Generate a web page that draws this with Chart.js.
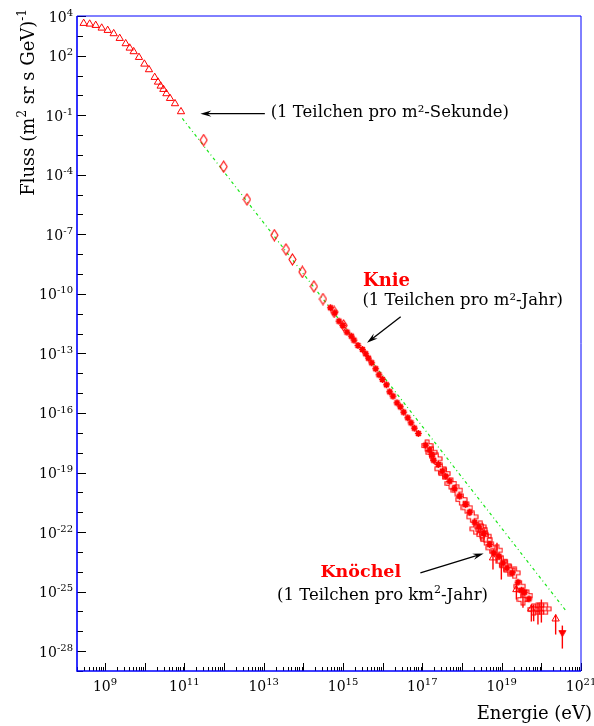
<!DOCTYPE html>
<html>
<head>
<meta charset="utf-8">
<script src="https://cdn.jsdelivr.net/npm/chart.js@4/dist/chart.umd.min.js"></script>
<style>
  html, body { margin: 0; padding: 0; background: #ffffff; }
  canvas { display: block; }
</style>
</head>
<body>
<canvas id="flux" width="594" height="726"></canvas>
<script>
// Cosmic-ray energy spectrum. All values are log10: energy in eV, flux in (m^2 sr s GeV)^-1.

// direct measurements, low energies (open triangles)
const directLogE    = [8.463, 8.614, 8.766, 8.917, 9.068, 9.219, 9.371, 9.522, 9.623, 9.723, 9.857,
                       9.993, 10.109, 10.253, 10.336, 10.404, 10.472, 10.548, 10.639, 10.765, 10.916];
const directLogFlux = [3.632, 3.597, 3.531, 3.395, 3.279, 3.113, 2.876, 2.609, 2.387, 2.206, 1.918,
                       1.581, 1.298, 0.910, 0.673, 0.472, 0.306, 0.089, -0.148, -0.415, -0.818];

// balloon / satellite data (open diamonds)
const balloonLogE    = [11.488, 11.992, 12.580, 13.270, 13.563, 13.724, 13.976, 14.266, 14.495, 14.778, 15.017];
const balloonLogFlux = [-2.25, -3.59, -5.24, -7.04, -7.76, -8.263, -8.893, -9.624, -10.259, -10.909, -11.59];

// air-shower arrays around the knee (filled stars)
const kneeLogE    = [14.682, 14.790, 14.899, 15.000, 15.100, 15.211, 15.277, 15.378, 15.489, 15.572,
                     15.640, 15.723, 15.824, 15.907, 15.993, 16.094, 16.177, 16.260, 16.361, 16.446,
                     16.530, 16.631, 16.714, 16.799, 16.900];
const kneeLogFlux = [-10.698, -10.950, -11.373, -11.590, -11.927, -12.129, -12.331, -12.598, -12.800, -13.016,
                     -13.238, -13.470, -13.772, -14.075, -14.311, -14.579, -14.931, -15.153, -15.486, -15.688,
                     -15.960, -16.242, -16.494, -16.766, -17.033];

// air-shower arrays above 10^17 eV (filled stars)
const ankleLogE    = [17.084, 17.185, 17.236, 17.286, 17.404, 17.505, 17.588, 17.689, 17.815, 17.941,
                      18.093, 18.193, 18.319, 18.428, 18.546, 18.698, 18.798, 18.932, 19.033, 19.134,
                      19.270, 19.411, 19.497, 19.580, 19.688];
const ankleLogFlux = [-17.623, -17.875, -18.092, -18.379, -18.596, -18.933, -19.185, -19.438, -19.821, -20.194,
                      -20.612, -21.000, -21.504, -21.736, -22.074, -22.628, -23.046, -23.218, -23.550, -23.802,
                      -24.054, -24.528, -24.931, -25.032, -25.365];

// fluorescence detectors (open crosses) with flux error bars
const fluoLogE    = [17.120, 17.230, 17.354, 17.455, 17.560, 17.722, 17.873, 17.984, 18.125, 18.261,
                     18.345, 18.463, 18.489, 18.513, 18.597, 18.610, 18.748, 18.882, 18.992, 19.100,
                     19.202, 19.328, 19.454, 19.537, 19.638, 19.807, 19.915, 20.001, 20.109];
const fluoLogFlux = [-17.640, -17.980, -18.309, -18.812, -19.050, -19.553, -19.891, -20.360, -20.778, -21.232,
                     -21.837, -21.736, -21.872, -22.124, -22.210, -22.376, -22.794, -22.915, -23.470, -23.700,
                     -23.923, -24.054, -24.730, -25.400, -25.199, -25.904, -25.869, -25.869, -25.869];
const fluoLogErrHi = [null, null, null, null, null, null, null, null, null, null,
                      null, null, null, null, null, null, null, -22.542, -23.218, null,
                      null, null, null, -25.062, null, -25.652, -25.567, -25.400, null];
const fluoLogErrLo = [null, null, null, null, null, null, null, null, null, null,
                      null, null, null, null, null, null, null, -23.550, -24.392, null,
                      null, null, null, -25.819, null, -26.494, -26.660, -26.559, null];

// ground array at the highest energies (open triangles) with error bars
const giantLogE     = [18.781, 19.371, 19.749, 20.361];
const giantLogFlux  = [-23.298, -24.896, -25.869, -26.373];
const giantLogErrHi = [-22.965, -24.544, -25.652, -26.150];
const giantLogErrLo = [-23.888, -25.400, -26.509, -27.163];

// upper limit (filled down triangle)
const limitLogE     = [20.530];
const limitLogFlux  = [-27.114];
const limitLogErrHi = [-26.711];
const limitLogErrLo = [-27.870];

// E^-2.6 power-law guide
const guideLogE    = [10.95, 20.63];
const guideLogFlux = [-1.16, -25.99];

// axis decorations
const xLabelExps = [9, 11, 13, 15, 17, 19, 21];
const yLabelExps = [4, 2, -1, -4, -7, -10, -13, -16, -19, -22, -25, -28];

const RED = '#ff0000';
const SERIF = '"DejaVu Serif", "Liberation Serif", serif';

function points(le, lf) {
  return le.map((e, i) => ({ x: Math.pow(10, e), y: Math.pow(10, lf[i]) }));
}
function toVals(arr) {
  return arr.map(v => (v === null ? null : Math.pow(10, v)));
}

// marker sprites
function sprite(w, h, draw) {
  const c = document.createElement('canvas');
  c.width = w; c.height = h;
  const g = c.getContext('2d');
  draw(g, w, h);
  return c;
}
const diamondMark = sprite(9, 13, (g) => {
  g.strokeStyle = RED; g.lineWidth = 1.1;
  g.beginPath();
  g.moveTo(4.5, 1); g.lineTo(8, 6.5); g.lineTo(4.5, 12); g.lineTo(1, 6.5); g.closePath();
  g.stroke();
});
const crossMark = sprite(13, 13, (g) => {
  const c = 6.5, a = 1.8, L = 5.5;
  g.strokeStyle = RED; g.lineWidth = 1.1;
  g.beginPath();
  g.moveTo(c - a, c - L); g.lineTo(c + a, c - L); g.lineTo(c + a, c - a); g.lineTo(c + L, c - a);
  g.lineTo(c + L, c + a); g.lineTo(c + a, c + a); g.lineTo(c + a, c + L); g.lineTo(c - a, c + L);
  g.lineTo(c - a, c + a); g.lineTo(c - L, c + a); g.lineTo(c - L, c - a); g.lineTo(c - a, c - a);
  g.closePath();
  g.stroke();
});
const starMark = sprite(9, 9, (g) => {
  g.strokeStyle = RED; g.lineWidth = 1.7; g.lineCap = 'butt';
  const c = 4.5, r = 3.4;
  g.beginPath();
  for (let k = 0; k < 4; k++) {
    const t = k * Math.PI / 4;
    g.moveTo(c - r * Math.cos(t), c - r * Math.sin(t));
    g.lineTo(c + r * Math.cos(t), c + r * Math.sin(t));
  }
  g.stroke();
  g.fillStyle = RED;
  g.fillRect(c - 1.8, c - 1.8, 3.6, 3.6);
});
const downMark = sprite(9, 9, (g) => {
  g.fillStyle = RED; g.strokeStyle = RED; g.lineWidth = 1;
  g.beginPath();
  g.moveTo(1, 1.5); g.lineTo(8, 1.5); g.lineTo(4.5, 7.5); g.closePath();
  g.fill(); g.stroke();
});

function markerSet(le, lf, style, extra) {
  return Object.assign({
    type: 'scatter',
    data: points(le, lf),
    pointStyle: style,
    pointRadius: 4,
    pointBorderColor: RED,
    pointBackgroundColor: 'rgba(0,0,0,0)',
    pointBorderWidth: 1,
    pointHoverRadius: 4,
    showLine: false,
    order: 1
  }, extra || {});
}

const datasets = [
  {
    type: 'line',
    data: points(guideLogE, guideLogFlux),
    borderColor: '#19e619',
    borderWidth: 1.2,
    borderDash: [3, 3, 1, 3],
    pointRadius: 0,
    fill: false,
    order: 9
  },
  markerSet(directLogE, directLogFlux, 'triangle', { pointRadius: 4.2 }),
  markerSet(balloonLogE, balloonLogFlux, diamondMark),
  markerSet(kneeLogE, kneeLogFlux, starMark),
  markerSet(ankleLogE, ankleLogFlux, starMark),
  markerSet(fluoLogE, fluoLogFlux, crossMark, { errHi: toVals(fluoLogErrHi), errLo: toVals(fluoLogErrLo) }),
  markerSet(giantLogE, giantLogFlux, 'triangle', { pointRadius: 4.2, errHi: toVals(giantLogErrHi), errLo: toVals(giantLogErrLo) }),
  markerSet(limitLogE, limitLogFlux, downMark, { errHi: toVals(limitLogErrHi), errLo: toVals(limitLogErrLo) })
];

// text annotations and arrows, placed in data coordinates (log10 E, log10 flux)
const notes = [
  { text: '(1 Teilchen pro m²-Sekunde)', at: [13.177, -1.081], font: '16.5px ' + SERIF, color: '#000000' },
  { text: 'Knie', at: [15.504, -9.599], font: 'bold 18px ' + SERIF, color: RED },
  { text: '(1 Teilchen pro m²-Jahr)', at: [15.489, -10.582], font: '16.5px ' + SERIF, color: '#000000' },
  { text: 'Knöchel', at: [14.430, -24.256], font: 'bold 17.5px ' + SERIF, color: RED },
  { rich: [['(1 Teilchen pro km', false], ['2', true], ['-Jahr)', false]], at: [13.336, -25.400], font: 16.5, color: '#000000' }
];
const arrows = [
  { from: [13.03, -0.92], to: [11.405, -0.92] },
  { from: [16.454, -11.151], to: [15.605, -12.462] },
  { from: [16.951, -24.054], to: [18.546, -23.081] }
];

function richText(ctx, parts, x, y, size, align) {
  const base = size + 'px ' + SERIF, sup = Math.round(size * 0.68) + 'px ' + SERIF;
  let w = 0;
  parts.forEach(([t, s]) => { ctx.font = s ? sup : base; w += ctx.measureText(t).width; });
  let cx = align === 'right' ? x - w : align === 'center' ? x - w / 2 : x;
  ctx.textAlign = 'left';
  ctx.textBaseline = 'alphabetic';
  parts.forEach(([t, s]) => {
    ctx.font = s ? sup : base;
    ctx.fillText(t, cx, s ? y - size * 0.42 : y);
    cx += ctx.measureText(t).width;
  });
  return w;
}

function arrow(ctx, x1, y1, x2, y2) {
  const ang = Math.atan2(y2 - y1, x2 - x1);
  const L = 11, W = 3.2;
  ctx.strokeStyle = '#000000'; ctx.fillStyle = '#000000'; ctx.lineWidth = 1.3;
  ctx.beginPath();
  ctx.moveTo(x1, y1);
  ctx.lineTo(x2 - Math.cos(ang) * L * 0.6, y2 - Math.sin(ang) * L * 0.6);
  ctx.stroke();
  const bx = x2 - Math.cos(ang) * L, by = y2 - Math.sin(ang) * L;
  const nx = -Math.sin(ang) * W, ny = Math.cos(ang) * W;
  ctx.beginPath();
  ctx.moveTo(x2, y2);
  ctx.lineTo(bx + nx, by + ny);
  ctx.lineTo(x2 - Math.cos(ang) * L * 0.65, y2 - Math.sin(ang) * L * 0.65);
  ctx.lineTo(bx - nx, by - ny);
  ctx.closePath();
  ctx.fill();
}

const decorations = {
  id: 'decorations',
  beforeDatasetsDraw(chart) {
    const { ctx, scales: { x, y } } = chart;
    ctx.save();
    ctx.strokeStyle = RED;
    ctx.lineWidth = 1.4;
    chart.data.datasets.forEach((ds) => {
      if (!ds.errHi) return;
      ds.data.forEach((p, i) => {
        if (ds.errHi[i] === null || ds.errLo[i] === null) return;
        const px = x.getPixelForValue(p.x);
        ctx.beginPath();
        ctx.moveTo(px, y.getPixelForValue(ds.errHi[i]));
        ctx.lineTo(px, y.getPixelForValue(ds.errLo[i]));
        ctx.stroke();
      });
    });
    ctx.restore();
  },
  afterDatasetsDraw(chart) {
    const { ctx, chartArea: a, scales: { x, y } } = chart;
    ctx.save();

    // tick marks inside the frame
    ctx.strokeStyle = '#000000';
    ctx.lineWidth = 1;
    const xMinExp = Math.floor(Math.log10(x.min)), xMaxExp = Math.ceil(Math.log10(x.max));
    for (let e = xMinExp; e <= xMaxExp; e++) {
      for (let m = 1; m <= 9; m++) {
        const v = m * Math.pow(10, e);
        if (v < x.min || v > x.max) continue;
        const px = Math.round(x.getPixelForValue(v)) + 0.5;
        const len = m === 1 ? 8 : 4;
        ctx.beginPath();
        ctx.moveTo(px, a.bottom);
        ctx.lineTo(px, a.bottom - len);
        ctx.stroke();
      }
    }
    for (let e = Math.ceil(Math.log10(y.min)); e <= Math.floor(Math.log10(y.max)); e++) {
      const py = Math.round(y.getPixelForValue(Math.pow(10, e))) + 0.5;
      const len = yLabelExps.includes(e) ? 9 : 6;
      ctx.beginPath();
      ctx.moveTo(a.left, py);
      ctx.lineTo(a.left + len, py);
      ctx.stroke();
    }

    // frame
    ctx.strokeStyle = '#0000ff';
    ctx.lineWidth = 1;
    ctx.beginPath();
    ctx.moveTo(a.left, a.top); ctx.lineTo(a.right, a.top); ctx.lineTo(a.right, a.bottom);
    ctx.stroke();
    ctx.lineWidth = 1.6;
    ctx.beginPath();
    ctx.moveTo(a.right, a.bottom); ctx.lineTo(a.left, a.bottom); ctx.lineTo(a.left, a.top);
    ctx.stroke();

    // tick labels 10^n
    ctx.fillStyle = '#000000';
    xLabelExps.forEach((e) => {
      const px = x.getPixelForValue(Math.pow(10, e));
      richText(ctx, [['10', false], [String(e), true]], px, a.bottom + 20, 14, 'center');
    });
    yLabelExps.forEach((e) => {
      const py = y.getPixelForValue(Math.pow(10, e));
      richText(ctx, [['10', false], [String(e), true]], a.left - 4, py + 5.5, 14, 'right');
    });

    // axis titles
    richText(ctx, [['Energie (eV)', false]], chart.width - 2, a.bottom + 48, 18, 'right');
    ctx.save();
    ctx.translate(34, 9);
    ctx.rotate(-Math.PI / 2);
    richText(ctx, [['Fluss (m', false], ['2', true], [' sr s GeV)', false], ['-1', true]], 0, 0, 18, 'right');
    ctx.restore();

    // annotations
    notes.forEach((n) => {
      const px = x.getPixelForValue(Math.pow(10, n.at[0]));
      const py = y.getPixelForValue(Math.pow(10, n.at[1]));
      ctx.fillStyle = n.color;
      if (n.rich) {
        richText(ctx, n.rich, px, py, n.font, 'left');
      } else {
        ctx.font = n.font;
        ctx.textAlign = 'left';
        ctx.textBaseline = 'alphabetic';
        ctx.fillText(n.text, px, py);
      }
    });
    arrows.forEach((r) => {
      arrow(ctx,
        x.getPixelForValue(Math.pow(10, r.from[0])), y.getPixelForValue(Math.pow(10, r.from[1])),
        x.getPixelForValue(Math.pow(10, r.to[0])), y.getPixelForValue(Math.pow(10, r.to[1])));
    });

    ctx.restore();
  }
};

new Chart(document.getElementById('flux'), {
  data: { datasets },
  options: {
    responsive: false,
    animation: false,
    devicePixelRatio: 1,
    layout: { padding: { left: 77, top: 16, right: 13, bottom: 55 } },
    plugins: { legend: { display: false }, tooltip: { enabled: false } },
    scales: {
      x: { type: 'logarithmic', min: 1.97e8, max: 1e21, display: false },
      y: { type: 'logarithmic', min: 1e-29, max: 1e4, display: false }
    }
  },
  plugins: [decorations]
});
</script>
</body>
</html>
